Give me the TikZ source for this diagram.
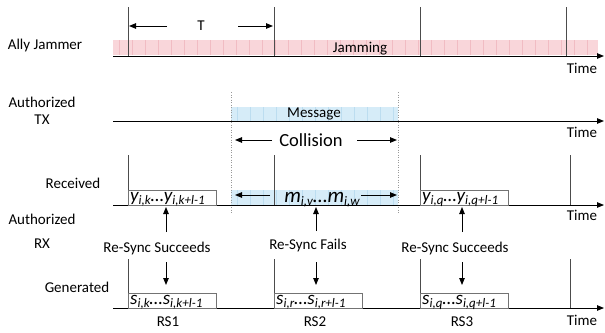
\documentclass[tikz,border=0pt]{standalone}
\usepackage{fontspec}
\setmainfont{Carlito}
\usetikzlibrary{arrows.meta}
\definecolor{jampink}{HTML}{F9D6DA}
\definecolor{jamstripe}{HTML}{F1BCC3}
\definecolor{msgblue}{HTML}{D6ECF8}
\definecolor{msgstripe}{HTML}{BCDDF0}
% lowered index for the symbol sequences
\newcommand\idx[1]{\raisebox{-3pt}{\fontsize{13}{13}\selectfont #1}}
\begin{document}
\begin{tikzpicture}[x=1pt,y=-1pt,
  every node/.style={font=\fontsize{15}{18}\selectfont, inner sep=0pt},
  axis/.style={draw=black, line width=0.9pt, -{Triangle[length=7pt,width=5.5pt]}},
  tick/.style={draw=black!70, line width=0.8pt},
  arr/.style={draw=black, line width=0.9pt, -{Triangle[length=7pt,width=5.5pt]}},
  slotbox/.style={draw=black!55, line width=0.8pt, fill=white, anchor=north west,
    minimum width=88pt, minimum height=15pt},
  guide/.style={draw=black!40, dotted, line width=0.5pt},
  boxtext/.style={font=\fontsize{19}{20}\selectfont\itshape, anchor=base west},
  bigtext/.style={font=\fontsize{18.5}{20}\selectfont},
]
\useasboundingbox (0,0) rectangle (605,332);

% ---------- shaded bands ----------
\fill[jampink] (113,40) rectangle (598,55);
\foreach \x in {119,132,...,596} \draw[jamstripe, line width=0.7pt] (\x,40) -- (\x,55);
\fill[msgblue] (231,107) rectangle (398,121);
\foreach \x in {237,250,...,396} \draw[msgstripe, line width=0.7pt] (\x,107) -- (\x,121);
\fill[msgblue] (231,190) rectangle (398,205);
\foreach \x in {237,250,...,396} \draw[msgstripe, line width=0.7pt] (\x,190) -- (\x,205);

% dotted guides bounding the message
\draw[guide] (231,92) -- (231,213);
\draw[guide] (398,92) -- (398,213);

% ---------- time axes ----------
\coordinate (a1s) at (113,56);  \coordinate (a1e) at (604,56);
\coordinate (a2s) at (113,121); \coordinate (a2e) at (604,121);
\coordinate (a3s) at (113,205); \coordinate (a3e) at (604,205);
\coordinate (a4s) at (113,308); \coordinate (a4e) at (604,308);
\draw[axis] (a1s) -- (a1e);
\draw[axis] (a2s) -- (a2e);
\draw[axis] (a3s) -- (a3e);
\draw[axis] (a4s) -- (a4e);
\node (time1) at (582,68)  {Time};
\node (time2) at (582,132) {Time};
\node (time3) at (582,215) {Time};
\node (time4) at (582,320) {Time};

% ---------- row labels ----------
\node (ally)  at (45,46)  {Ally Jammer};
\node (autx)  at (42,102) {Authorized};
\node (tx)    at (42,120) {TX};
\node (recv)  at (73,183) {Received};
\node (aurx)  at (42,219) {Authorized};
\node (rx)    at (42,244) {RX};
\node (gen)   at (77,287) {Generated};

% ---------- jammer row ----------
\foreach \x in {128,274,420,566} \draw[tick] (\x,7) -- (\x,56);
\node (jam) at (360,49) {Jamming};
\node (T) at (201,26) {T};
\coordinate (tLs) at (167,26); \coordinate (tLe) at (129,26);
\coordinate (tRs) at (238,26); \coordinate (tRe) at (273,26);
\draw[arr] (tLs) -- (tLe);
\draw[arr] (tRs) -- (tRe);

% ---------- authorized TX row ----------
\node (msg) at (314,114) {Message};
\node[bigtext] (coll) at (311,140) {Collision};
\coordinate (cLs) at (272,140); \coordinate (cLe) at (235,140);
\coordinate (cRs) at (357,140); \coordinate (cRe) at (397,140);
\draw[arr] (cLs) -- (cLe);
\draw[arr] (cRs) -- (cRe);

% ---------- received row ----------
\foreach \x in {128,274,420,570} \draw[tick] (\x,155) -- (\x,205);
\node[slotbox] (rb1) at (128,190) {};
\node[slotbox] (rb3) at (420,190) {};
\node[boxtext] (ry1) at (130,201) {y\idx{i,k}…y\idx{i,k+l-1}};
\node[boxtext] (ry3) at (422,201) {y\idx{i,q}…y\idx{i,q+l-1}};
\node[font=\fontsize{21}{22}\selectfont\itshape, anchor=base] (rm) at (322,202)
  {m\idx{i,v}…m\idx{i,w}};
\coordinate (mLs) at (270,195); \coordinate (mLe) at (235,195);
\coordinate (mRs) at (361,195); \coordinate (mRe) at (397,195);
\draw[arr] (mLs) -- (mLe);
\draw[arr] (mRs) -- (mRe);

% ---------- re-sync decisions ----------
\node (rs1) at (157,248) {Re-Sync Succeeds};
\node (rs2) at (308,245) {Re-Sync Fails};
\node (rs3) at (455,248) {Re-Sync Succeeds};
\coordinate (u1s) at (166,232); \coordinate (u1e) at (166,207);
\coordinate (u2s) at (316,231); \coordinate (u2e) at (316,207);
\coordinate (u3s) at (462,232); \coordinate (u3e) at (462,207);
\draw[arr] (u1s) -- (u1e);
\draw[arr] (u2s) -- (u2e);
\draw[arr] (u3s) -- (u3e);
\coordinate (d1s) at (166,262); \coordinate (d1e) at (166,285);
\coordinate (d2s) at (316,262); \coordinate (d2e) at (316,285);
\coordinate (d3s) at (462,262); \coordinate (d3e) at (462,285);
\draw[arr] (d1s) -- (d1e);
\draw[arr] (d2s) -- (d2e);
\draw[arr] (d3s) -- (d3e);

% ---------- generated row ----------
\foreach \x in {128,274,420,570} \draw[tick] (\x,259) -- (\x,308);
\node[slotbox] (gb1) at (128,293) {};
\node[slotbox] (gb2) at (274,293) {};
\node[slotbox] (gb3) at (420,293) {};
\node[boxtext] (gs1) at (130,304) {s\idx{i,k}…s\idx{i,k+l-1}};
\node[boxtext] (gs2) at (276,304) {s\idx{i,r}…s\idx{i,r+l-1}};
\node[boxtext] (gs3) at (422,304) {s\idx{i,q}…s\idx{i,q+l-1}};
\node (rsa) at (168,322) {RS1};
\node (rsb) at (315,322) {RS2};
\node (rsc) at (462,322) {RS3};
\end{tikzpicture}
\end{document}
